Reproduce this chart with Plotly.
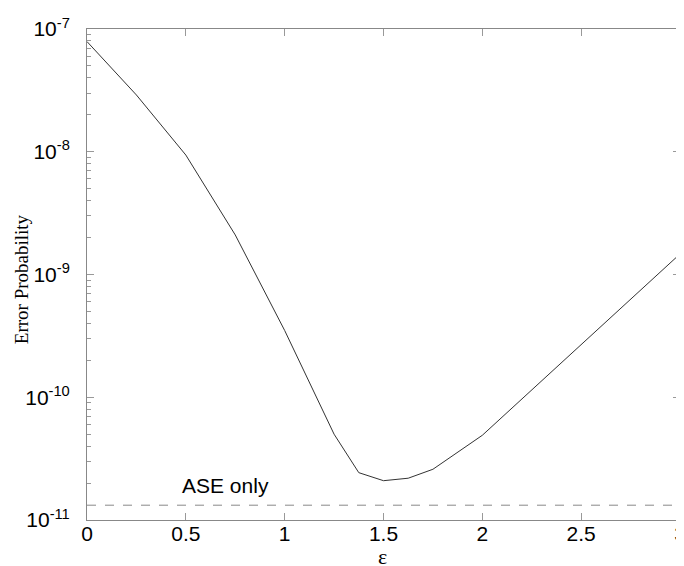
import plotly.graph_objects as go

# curve
eps = [0.0, 0.25, 0.5, 0.75, 1.0, 1.25, 1.375, 1.5, 1.625, 1.75, 2.0, 3.0]
err_prob = [7.9e-8, 2.9e-8, 9.4e-9, 2.1e-9, 3.5e-10, 5.0e-11, 2.43e-11,
            2.09e-11, 2.19e-11, 2.59e-11, 4.9e-11, 1.47e-9]
ase_level = 1.32e-11

ytick_vals = [1e-11, 1e-10, 1e-9, 1e-8, 1e-7]
ytick_text = ["10<sup>-11</sup>", "10<sup>-10</sup>", "10<sup>-9</sup>",
              "10<sup>-8</sup>", "10<sup>-7</sup>"]
minor_vals = [m * d for d in ytick_vals[:-1] for m in range(2, 10)]

curve = go.Scatter(x=eps, y=err_prob, mode="lines",
                   line=dict(color="#333333", width=1), showlegend=False)
ase = go.Scatter(x=[0, 3], y=[ase_level, ase_level], mode="lines",
                 line=dict(color="#888888", width=1, dash="dash"), showlegend=False)

fig = go.Figure(data=[curve, ase])
# page body has an 8px margin, so the figure is a bit smaller than the window
fig.update_layout(
    width=676, height=558,
    margin=dict(l=79, r=4, t=21, b=46),
    plot_bgcolor="white", paper_bgcolor="white",
    font=dict(family="Liberation Sans, Arial, sans-serif", size=21, color="black"),
    annotations=[
        dict(x=0.70, y=-10.72, xref="x", yref="y", text="ASE only",
             showarrow=False, font=dict(size=21)),
        dict(x=0.499, y=-0.075, xref="paper", yref="paper", text="ε",
             showarrow=False, yanchor="middle",
             font=dict(family="Liberation Serif, serif", size=22)),
        dict(x=-0.11, y=0.49, xref="paper", yref="paper", text="Error Probability",
             showarrow=False, textangle=-90, xanchor="center",
             font=dict(family="Liberation Serif, serif", size=19)),
    ],
)
fig.update_xaxes(range=[0, 3], dtick=0.5, ticks="inside", ticklen=7,
                 tickcolor="#999999", showline=True, linecolor="#888888",
                 mirror="ticks", showgrid=False, zeroline=False,
                 automargin=False, ticklabeloverflow="allow", ticklabelstandoff=-5)
fig.update_yaxes(type="log", range=[-11, -7], tickvals=ytick_vals, ticktext=ytick_text,
                 ticks="inside", ticklen=7, tickcolor="#999999",
                 minor=dict(ticks="inside", ticklen=4, tickcolor="#999999",
                            tickvals=minor_vals),
                 showline=True, linecolor="#888888", mirror="ticks",
                 showgrid=False, zeroline=False, ticklabelstandoff=12,
                 automargin=False)

fig.write_html("out.html")
